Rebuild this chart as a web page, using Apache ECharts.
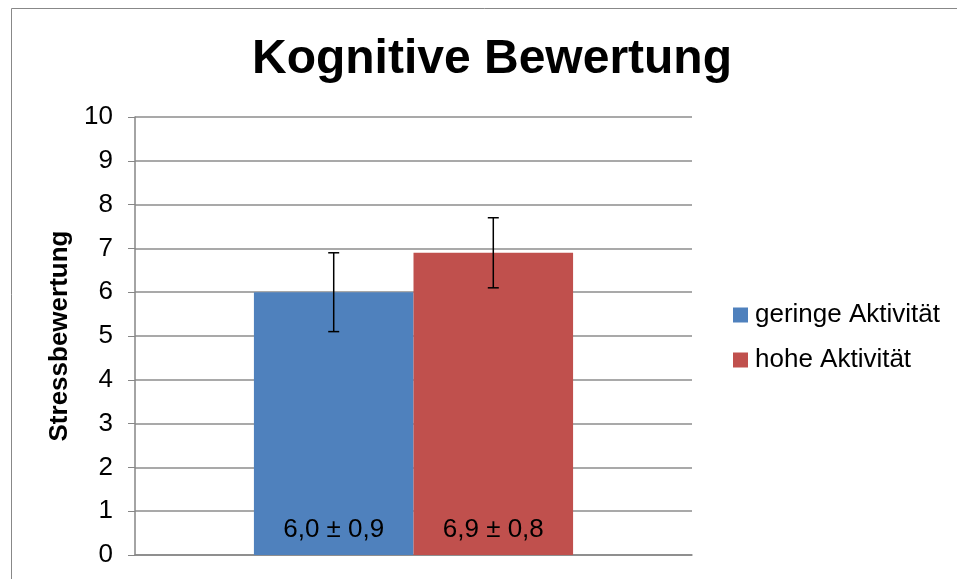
<!DOCTYPE html>
<html><head><meta charset="utf-8">
<script src="https://cdn.jsdelivr.net/npm/echarts@6/dist/echarts.min.js"></script>
<style>html,body{margin:0;padding:0;background:#fff}#c{width:957px;height:579px}</style>
</head><body><div id="c"></div>
<script>
var categories = ['Kognitive Bewertung'];
var seriesNames = ['geringe Aktivität', 'hohe Aktivität'];
var means = [6.0, 6.9];
var sds = [0.9, 0.8];
var colors = ['#4f81bd', '#c0504d'];
var yTicks = [0, 10, 1];

var FF = "'Liberation Sans', Arial, sans-serif";
var chart = echarts.init(document.getElementById('c'));
var gapFrac = 0.427;
function fmt(v){ return v.toFixed(1).replace('.', ','); }

var series = [];
seriesNames.forEach(function(name, i){
  series.push({
    name: name, type: 'bar', data: [means[i]],
    barGap: '0%', barCategoryGap: (gapFrac*100)+'%',
    itemStyle: {color: colors[i]},
    label: {show: true, position: 'insideBottom', distance: 12,
      formatter: function(){ return fmt(means[i]) + ' \u00b1 ' + fmt(sds[i]); },
      fontFamily: FF, fontSize: 26, color: '#000'}
  });
});
series.push({
  type: 'custom', silent: true, z: 10,
  data: seriesNames.map(function(n, i){ return [0, means[i]-sds[i], means[i]+sds[i], i]; }),
  renderItem: function(params, api){
    var band = api.size([1, 0])[0];
    var bw = band*(1-gapFrac)/2;
    var idx = api.value(3);
    var c = api.coord([api.value(0), api.value(1)]);
    var t = api.coord([api.value(0), api.value(2)]);
    var x = c[0] + (idx === 0 ? -bw/2 : bw/2);
    var hw = 5.5;
    var st = {stroke: '#000', lineWidth: 1.5};
    return {type: 'group', children: [
      {type: 'line', shape: {x1: x, y1: c[1], x2: x, y2: t[1]}, style: st},
      {type: 'line', shape: {x1: x-hw, y1: c[1], x2: x+hw, y2: c[1]}, style: st},
      {type: 'line', shape: {x1: x-hw, y1: t[1], x2: x+hw, y2: t[1]}, style: st}
    ]};
  }
});

chart.setOption({
  animation: false,
  title: {text: 'Kognitive Bewertung', left: 487, top: 31, textAlign: 'center',
    textStyle: {fontFamily: FF, fontSize: 48, fontWeight: 'bold', color: '#000'}},
  graphic: [{type: 'rect', shape: {x: 11.5, y: 8.5, width: 1000, height: 1000},
    style: {fill: 'none', stroke: '#888', lineWidth: 1}, silent: true}],
  legend: {orient: 'vertical', left: 728, top: 297, itemWidth: 15, itemHeight: 15, itemGap: 19,
    icon: 'rect', data: seriesNames,
    textStyle: {fontFamily: FF, fontSize: 26, color: '#000', padding: [0,0,0,2]}},
  grid: {left: 135, right: 265, top: 117, bottom: 24},
  xAxis: {type: 'category', data: categories,
    axisLine: {lineStyle: {color: '#868686', width: 1.5}},
    axisTick: {show: false}, axisLabel: {show: false}},
  yAxis: {type: 'value', min: yTicks[0], max: yTicks[1], interval: yTicks[2],
    name: 'Stressbewertung', nameLocation: 'middle', nameGap: 60, nameRotate: 90,
    nameTextStyle: {fontFamily: FF, fontSize: 26, fontWeight: 'bold', color: '#000'},
    axisLine: {show: true, lineStyle: {color: '#868686', width: 1.5}},
    axisTick: {show: true, length: 7, lineStyle: {color: '#868686'}},
    axisLabel: {fontFamily: FF, fontSize: 26, color: '#000', margin: 22},
    splitLine: {lineStyle: {color: '#8c8c8c', width: 1.5}}},
  series: series
});
</script></body></html>
